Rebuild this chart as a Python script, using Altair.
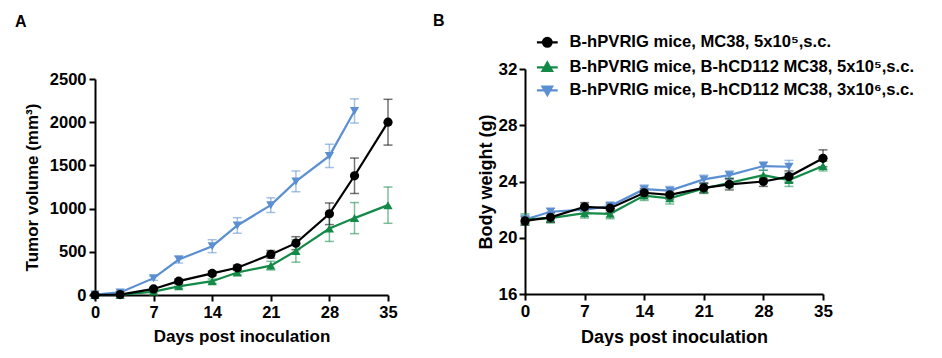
import altair as alt
import pandas as pd

days = [0, 3, 7, 10, 14, 17, 21, 24, 28, 31, 35]
groups = [
    "B-hPVRIG mice, MC38, 5x10⁵,s.c.",
    "B-hPVRIG mice, B-hCD112 MC38, 5x10⁵,s.c.",
    "B-hPVRIG mice, B-hCD112 MC38, 3x10⁶,s.c.",
]
colors = ["#000000", "#138a47", "#5b8fd2"]

# Tumor volume (mm3), mean and SEM
tv_black = [0, 5, 70, 160, 250, 315, 470, 600, 940, 1380, 2000]
tv_black_err = [5, 10, 20, 25, 25, 30, 45, 75, 125, 205, 265]
tv_green = [0, 0, 40, 100, 160, 260, 340, 510, 770, 890, 1040]
tv_green_err = [5, 5, 15, 20, 25, 30, 50, 130, 150, 180, 210]
tv_blue = [5, 30, 195, 410, 565, 805, 1040, 1315, 1610, 2130]
tv_blue_err = [5, 15, 25, 40, 75, 90, 85, 120, 135, 140]

# Body weight (g), mean and SEM
bw_black = [21.2, 21.45, 22.2, 22.1, 23.2, 23.05, 23.55, 23.8, 24.0, 24.35, 25.65]
bw_black_err = [0.3, 0.35, 0.3, 0.3, 0.3, 0.3, 0.35, 0.4, 0.35, 0.4, 0.6]
bw_green = [21.3, 21.4, 21.75, 21.7, 23.0, 22.8, 23.5, 23.9, 24.45, 24.1, 25.1]
bw_green_err = [0.4, 0.35, 0.35, 0.35, 0.35, 0.4, 0.35, 0.35, 0.35, 0.45, 0.35]
bw_blue = [21.3, 21.85, 22.0, 22.25, 23.45, 23.35, 24.15, 24.45, 25.1, 25.05]
bw_blue_err = [0.3, 0.25, 0.3, 0.3, 0.3, 0.3, 0.3, 0.3, 0.3, 0.45]

FONT = "Liberation Sans"


def make_df(series):
    rows = []
    # draw black last so it sits on top
    for gi in [2, 1, 0]:
        vals, errs = series[gi]
        for d, v, e in zip(days, vals, errs):
            rows.append({"day": d, "value": v, "lo": max(v - e, 0), "hi": v + e,
                         "group": groups[gi]})
    return pd.DataFrame(rows)


sym_paths = [
    "M-2.6,0H2.6M1.1,0A1.1,1.1,0,1,1,-1.1,0A1.1,1.1,0,1,1,1.1,0Z",
    "M-2.6,0H2.6M0,-1.2L1.2,0.9L-1.2,0.9Z",
    "M-2.6,0H2.6M0,1.2L1.2,-0.9L-1.2,-0.9Z",
]


def panel(df, ydom, yrange, yvals, ytitle, w, h, letter, tdx, toff,
          fs_lab, fs_tit, ytp, ylp, xtp, with_legend):
    xenc = alt.X("day:Q", scale=alt.Scale(domain=[0, 35], nice=False),
                 axis=alt.Axis(values=[0, 7, 14, 21, 28, 35], title="Days post inoculation",
                               labelFontSize=fs_lab, titleFontSize=fs_tit, titlePadding=xtp,
                               labelFlush=False, labelOverlap=False))
    yscale = alt.Scale(domain=ydom, range=yrange, nice=False, zero=False)
    yaxis = alt.Axis(values=yvals, title=ytitle, format="d", labelFontSize=fs_lab,
                     titleFontSize=fs_tit, titlePadding=ytp, labelPadding=ylp,
                     labelFlush=False, labelOverlap=False)
    cscale = alt.Scale(domain=groups, range=colors)
    col = alt.Color("group:N", scale=cscale, legend=None)
    base = alt.Chart(df)
    err = base.mark_rule(strokeWidth=1.5, opacity=0.55).encode(
        x=xenc, y=alt.Y("lo:Q", scale=yscale, axis=yaxis), y2="hi:Q", color=col)
    cap_lo = base.mark_tick(orient="horizontal", size=9, thickness=1.5, opacity=0.55).encode(
        x=xenc, y=alt.Y("lo:Q", scale=yscale), color=col)
    cap_hi = base.mark_tick(orient="horizontal", size=9, thickness=1.5, opacity=0.55).encode(
        x=xenc, y=alt.Y("hi:Q", scale=yscale), color=col)
    line = base.mark_line(strokeWidth=2.2).encode(
        x=xenc, y=alt.Y("value:Q", scale=yscale), color=col, order="day:Q")
    pts = base.mark_point(filled=True, size=85, opacity=1).encode(
        x=xenc, y=alt.Y("value:Q", scale=yscale), color=col,
        shape=alt.Shape("group:N", scale=alt.Scale(domain=groups,
                        range=["circle", "triangle-up", "triangle-down"]), legend=None))
    layers = [err, cap_lo, cap_hi, line, pts]
    if with_legend:
        leg = alt.Legend(orient="none", legendX=14, legendY=-35, title=None,
                         labelFont=FONT + ", DejaVu Sans", labelFontSize=16.6, labelFontWeight="bold",
                         labelColor="black", symbolStrokeWidth=2.2, labelOffset=14,
                         rowPadding=6, symbolSize=64, labelLimit=400)
        lg = base.transform_filter("false").mark_point(filled=True, size=64, opacity=1).encode(
            x=xenc, y=alt.Y("value:Q", scale=yscale),
            fill=alt.Fill("group:N", scale=alt.Scale(domain=groups, range=colors), legend=leg),
            stroke=alt.Stroke("group:N", scale=alt.Scale(domain=groups, range=colors), legend=leg),
            shape=alt.Shape("group:N", scale=alt.Scale(domain=groups, range=sym_paths), legend=leg))
        layers.append(lg)
    ch = alt.layer(*layers).properties(
        width=w, height=h,
        title=alt.TitleParams(letter, anchor="start", frame="group", font=FONT,
                              fontSize=16, fontWeight="bold", color="black", dx=tdx, offset=toff))
    if with_legend:
        ch = ch.resolve_scale(shape="independent", color="independent",
                              fill="independent", stroke="independent")
    return ch


dfA = make_df([(tv_black, tv_black_err), (tv_green, tv_green_err), (tv_blue, tv_blue_err)])
dfB = make_df([(bw_black, bw_black_err), (bw_green, bw_green_err), (bw_blue, bw_blue_err)])

A = panel(dfA, [0, 2500], [226, 10], [0, 500, 1000, 1500, 2000, 2500], "Tumor volume (mm³)",
          293, 226, "A", -80, 39, 16.5, 17, 8, 3, 8, False)
B = panel(dfB, [16, 32], [225, 0], [16, 20, 24, 28, 32], "Body weight (g)",
          298, 225, "B", -92, 5, 17, 18, 3, 2, 9, True)

chart = alt.hconcat(A, B, spacing=35).configure_view(stroke=None).configure_axis(
    grid=False, domainColor="black", domainWidth=2, tickColor="black", tickWidth=2,
    tickSize=6, labelFont=FONT, labelFontWeight="bold", labelColor="black",
    titleFont=FONT, titleFontWeight="bold", titleColor="black", labelPadding=3
).properties(padding={"left": 7, "top": 5, "right": 0, "bottom": 0})

chart.save("out.html", embed_options={"renderer": "svg", "actions": False})
